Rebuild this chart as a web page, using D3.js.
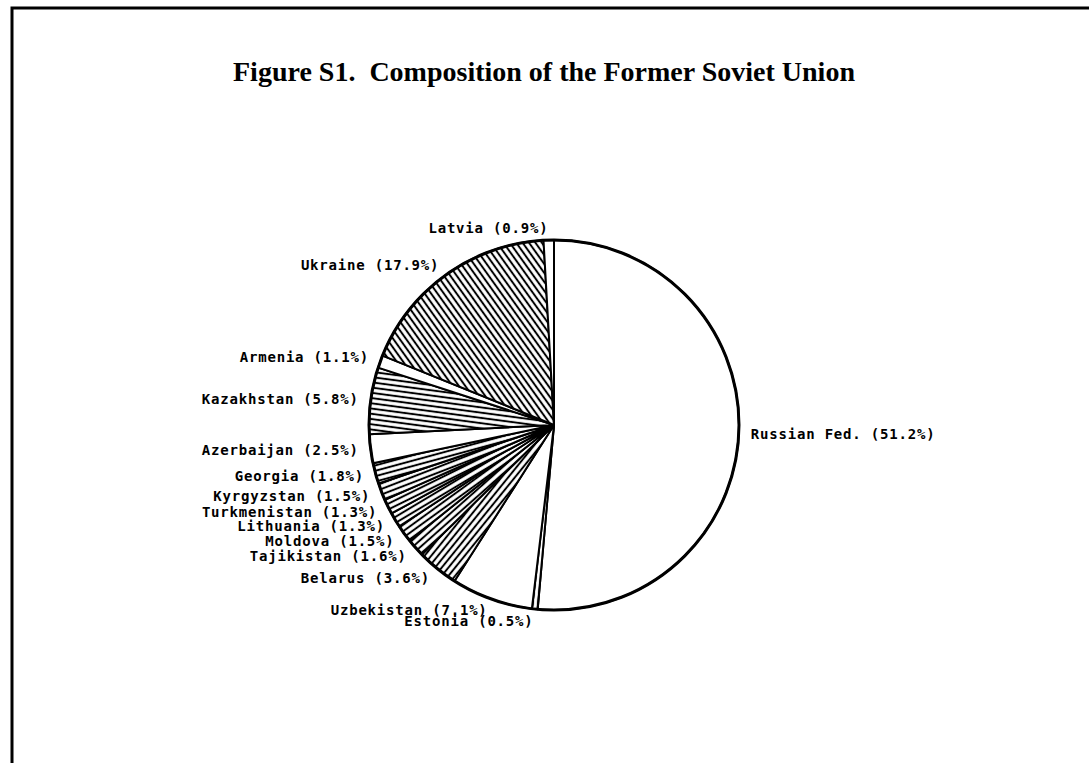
<!DOCTYPE html>
<html>
<head>
<meta charset="utf-8">
<script src="https://cdn.jsdelivr.net/npm/d3@7"></script>
<style>
  body { margin: 0; background: #fff; }
  svg { display: block; }
  .lbl { font-family: "DejaVu Sans Mono", monospace; font-weight: bold; font-size: 14px; letter-spacing: 0.8px; fill: #000; }
  .title { font-family: "Liberation Serif", "Times New Roman", serif; font-weight: bold; font-size: 28px; fill: #000; }
</style>
</head>
<body>
<div id="chart"></div>
<script>
// slices, clockwise from 12 o'clock
var countries = ['Russian Fed.', 'Estonia', 'Uzbekistan', 'Belarus', 'Tajikistan', 'Moldova',
  'Lithuania', 'Turkmenistan', 'Kyrgyzstan', 'Georgia', 'Azerbaijan', 'Kazakhstan',
  'Armenia', 'Ukraine', 'Latvia'];
var shares = [51.2, 0.5, 7.1, 3.6, 1.6, 1.5, 1.3, 1.3, 1.5, 1.8, 2.5, 5.8, 1.1, 17.9, 0.9];
var hatched = [false, true, false, true, true, true, true, true, true, true, false, true, false, true, false];

var width = 1089, height = 763;
var cx = 554, cy = 425, radius = 185;

var svg = d3.select('#chart').append('svg')
  .attr('width', width)
  .attr('height', height);

// frame (only top and left edges show)
svg.append('path')
  .attr('d', 'M12,' + height + ' L12,8 L' + width + ',8')
  .attr('fill', 'none')
  .attr('stroke', '#000')
  .attr('stroke-width', 3);

svg.append('text')
  .attr('class', 'title')
  .attr('x', 544)
  .attr('y', 81)
  .attr('text-anchor', 'middle')
  .attr('xml:space', 'preserve')
  .text('Figure S1.  Composition of the Former Soviet Union');

var dataset = countries.map(function(c, i) {
  return { label: c, value: shares[i], hatch: hatched[i] };
});

var pie = d3.pie()
  .value(function(d) { return d.value; })
  .sort(null);
var arcs = pie(dataset);

var arc = d3.arc().innerRadius(0).outerRadius(radius);
var labelArc = d3.arc().innerRadius(radius + 12).outerRadius(radius + 12);

var defs = svg.append('defs');
var g = svg.append('g')
  .attr('transform', 'translate(' + cx + ',' + cy + ')');

// hatch runs along each slice's bisector
arcs.forEach(function(d, i) {
  if (!d.data.hatch) return;
  var a = (d.startAngle + d.endAngle) / 2;
  var theta = Math.atan2(-Math.cos(a), Math.sin(a)) * 180 / Math.PI;
  var sp = 5.2;
  var p = defs.append('pattern')
    .attr('id', 'hatch-' + i)
    .attr('patternUnits', 'userSpaceOnUse')
    .attr('width', 10)
    .attr('height', sp)
    .attr('patternTransform', 'rotate(' + theta + ')');
  p.append('rect').attr('width', 10).attr('height', sp).attr('fill', '#fff');
  p.append('line')
    .attr('x1', -1).attr('x2', 11)
    .attr('y1', sp / 2).attr('y2', sp / 2)
    .attr('stroke', '#000')
    .attr('stroke-width', 2);
});

g.selectAll('path.slice')
  .data(arcs)
  .enter()
  .append('path')
  .attr('class', 'slice')
  .attr('d', arc)
  .attr('fill', function(d, i) { return d.data.hatch ? 'url(#hatch-' + i + ')' : '#fff'; })
  .attr('stroke', '#000')
  .attr('stroke-width', 2)
  .attr('stroke-linejoin', 'round');

g.append('circle')
  .attr('r', radius)
  .attr('fill', 'none')
  .attr('stroke', '#000')
  .attr('stroke-width', 3);

g.selectAll('text.lbl')
  .data(arcs)
  .enter()
  .append('text')
  .attr('class', 'lbl')
  .attr('transform', function(d) { return 'translate(' + labelArc.centroid(d) + ')'; })
  .attr('dy', '0.35em')
  .attr('text-anchor', function(d) {
    return (d.startAngle + d.endAngle) / 2 < Math.PI ? 'start' : 'end';
  })
  .text(function(d) { return d.data.label + ' (' + d.data.value.toFixed(1) + '%)'; });
</script>
</body>
</html>
